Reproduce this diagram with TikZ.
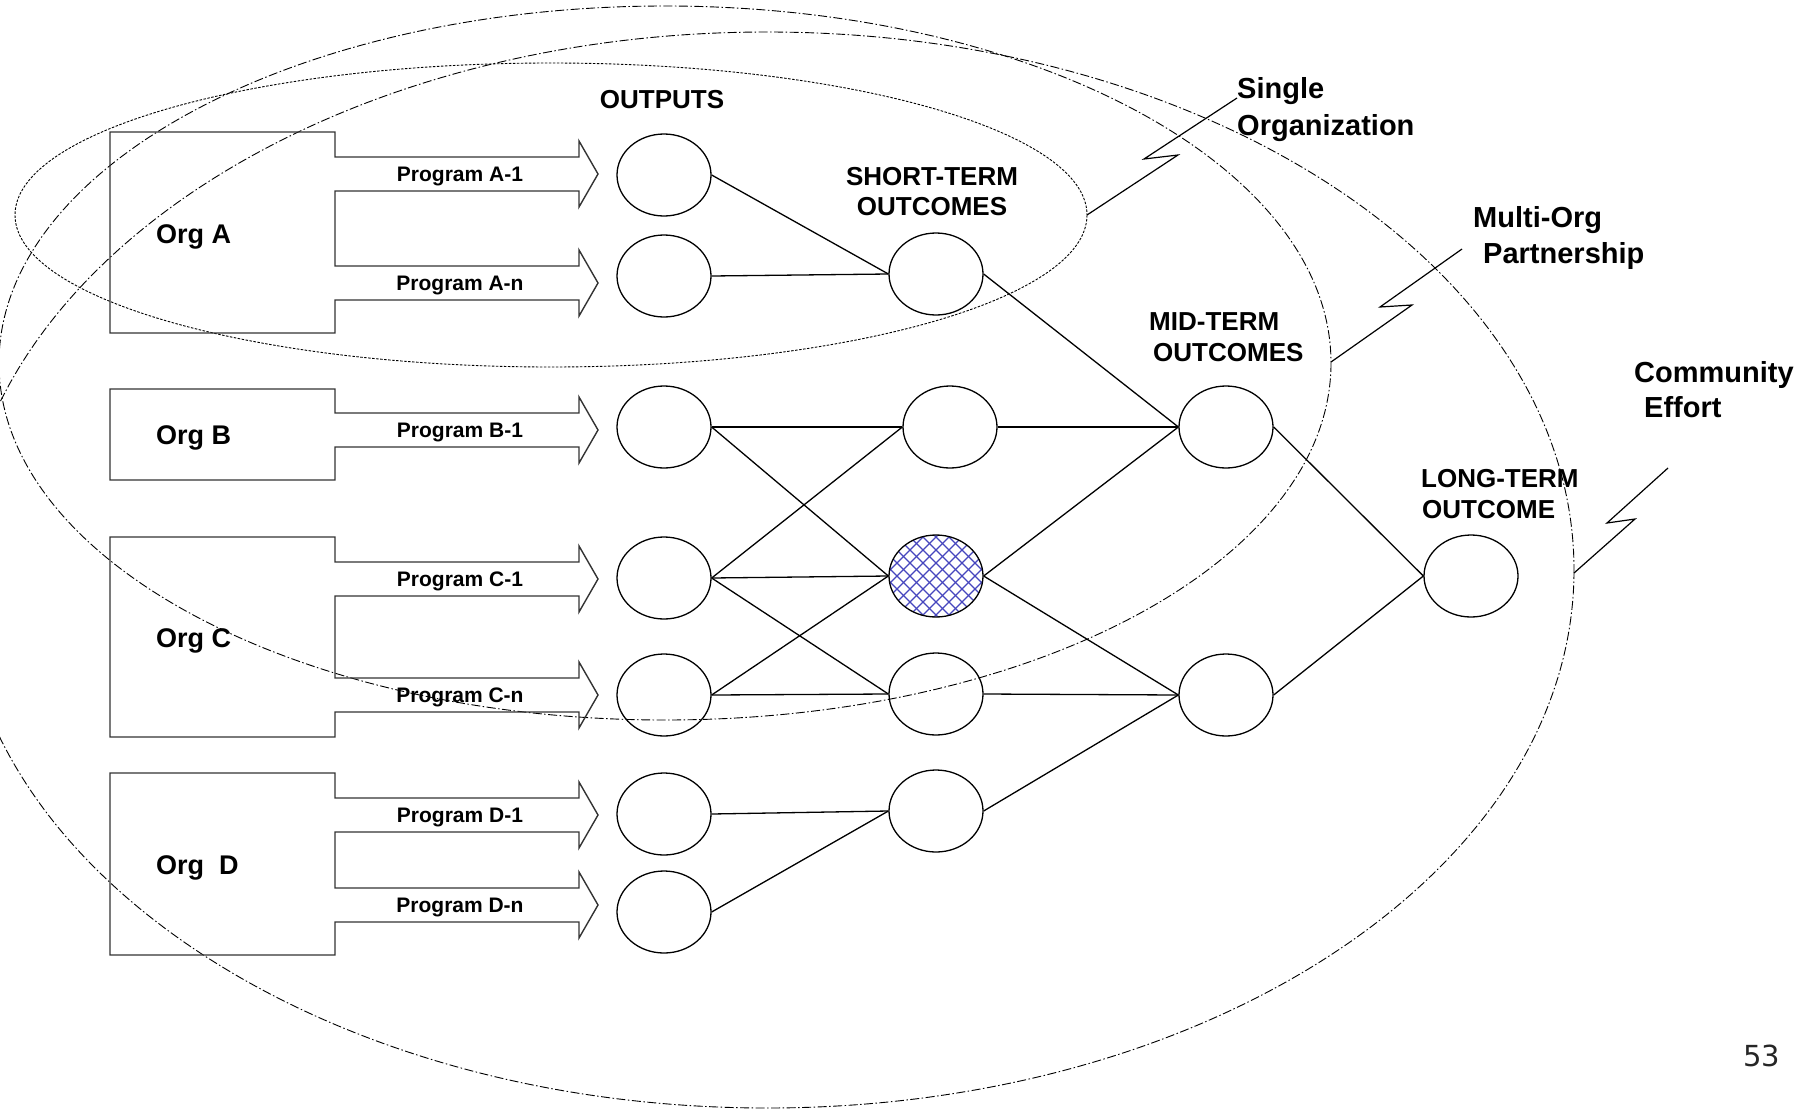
\documentclass[tikz,border=0pt]{standalone}
\usepackage{fontspec}
\setmainfont{Liberation Sans}
\newfontfamily\numfont{DejaVu Sans}
\usetikzlibrary{shapes.geometric}

\definecolor{hatchblue}{RGB}{70,70,190}

% one program arrow leaving the right side of an organisation box,
% #1 = vertical centre of the arrow
\newcommand{\progarrow}[1]{-- (335,#1-17) -- (579,#1-17) -- (579,#1-33) -- (598,#1)
  -- (579,#1+33) -- (579,#1+17) -- (335,#1+17)}

\begin{document}
\begin{tikzpicture}[x=1pt,y=-1pt,
  orgline/.style={draw=black!80, line width=1.4pt, line join=miter},
  bubble/.style={draw, ellipse, line width=1.3pt, minimum width=94pt,
    minimum height=82pt, inner sep=0pt},
  link/.style={line width=1.3pt},
  progtext/.style={font=\bfseries\fontsize{21}{25}\selectfont, inner sep=0pt, anchor=base},
  orgtext/.style={font=\bfseries\fontsize{27}{32}\selectfont, inner sep=0pt, anchor=base west},
  headtext/.style={font=\bfseries\fontsize{26}{31}\selectfont, inner sep=0pt},
  scopetext/.style={font=\bfseries\fontsize{29}{35}\selectfont, inner sep=0pt, anchor=base west},
  singlering/.style={line width=0.9pt, dash pattern=on 2.5pt off 1.5pt},
  widering/.style={line width=0.9pt, dash pattern=on 9pt off 2.5pt on 1.5pt off 2.5pt},
  bolt/.style={line width=1.2pt, line join=miter},
  hatch/.style={draw=hatchblue, line width=1.3pt}
]
\clip (0,0) rectangle (1814,1108);

% ---- scope rings ----
\draw[singlering] (551,215) ellipse [x radius=536, y radius=152];
\draw[widering] (665,363) ellipse [x radius=666, y radius=357];
\draw[widering] (767,570) ellipse [x radius=807, y radius=538];

% ---- organisations with their program arrows ----
\draw[orgline] (110,132) -- (335,132) \progarrow{174} \progarrow{283} -- (335,333) -- (110,333) -- cycle;
\draw[orgline] (110,389) -- (335,389) \progarrow{430} -- (335,480) -- (110,480) -- cycle;
\draw[orgline] (110,537) -- (335,537) \progarrow{579} \progarrow{695} -- (335,737) -- (110,737) -- cycle;
\draw[orgline] (110,773) -- (335,773) \progarrow{815} \progarrow{905} -- (335,955) -- (110,955) -- cycle;

\node[orgtext] (orgA) at (156,243) {Org A};
\node[orgtext] (orgB) at (156,444) {Org B};
\node[orgtext] (orgC) at (156,647) {Org C};
\node[orgtext] (orgD) at (156,874) {Org~~D};

\node[progtext] (pA1) at (460,181.5) {Program A-1};
\node[progtext] (pAn) at (460,290.5) {Program A-n};
\node[progtext] (pB1) at (460,437.5) {Program B-1};
\node[progtext] (pC1) at (460,586.5) {Program C-1};
\node[progtext] (pCn) at (460,702.5) {Program C-n};
\node[progtext] (pD1) at (460,822.5) {Program D-1};
\node[progtext] (pDn) at (460,912.5) {Program D-n};

% ---- outputs ----
\node[bubble] (o1) at (664,175) {};
\node[bubble] (o2) at (664,276) {};
\node[bubble] (o3) at (664,427) {};
\node[bubble] (o4) at (664,578) {};
\node[bubble] (o5) at (664,695) {};
\node[bubble] (o6) at (664,814) {};
\node[bubble] (o7) at (664,912) {};

% ---- short-term outcomes ----
\node[bubble] (s1) at (936,274) {};
\node[bubble] (s2) at (950,427) {};
\node[bubble, fill=white, path picture={
    \foreach \k in {-9,...,9} {
      \draw[hatch] ([xshift=\k*13pt-50pt, yshift=-50pt]path picture bounding box.center)
                -- ([xshift=\k*13pt+50pt, yshift=50pt]path picture bounding box.center);
      \draw[hatch] ([xshift=\k*13pt-50pt, yshift=50pt]path picture bounding box.center)
                -- ([xshift=\k*13pt+50pt, yshift=-50pt]path picture bounding box.center);
    }}] (s3) at (936,576) {};
\node[bubble] (s4) at (936,694) {};
\node[bubble] (s5) at (936,811) {};

% ---- mid-term and long-term outcomes ----
\node[bubble] (m1) at (1226,427) {};
\node[bubble] (m2) at (1226,695) {};
\node[bubble] (lt) at (1471,576) {};

% ---- links ----
\draw[link] (o1.east) -- (s1.west);
\draw[link] (o2.east) -- (s1.west);
\draw[link] (o3.east) -- (s2.west);
\draw[link] (o3.east) -- (s3.west);
\draw[link] (o4.east) -- (s2.west);
\draw[link] (o4.east) -- (s3.west);
\draw[link] (o4.east) -- (s4.west);
\draw[link] (o5.east) -- (s3.west);
\draw[link] (o5.east) -- (s4.west);
\draw[link] (o6.east) -- (s5.west);
\draw[link] (o7.east) -- (s5.west);
\draw[link] (s1.east) -- (m1.west);
\draw[link] (s2.east) -- (m1.west);
\draw[link] (s3.east) -- (m1.west);
\draw[link] (s3.east) -- (m2.west);
\draw[link] (s4.east) -- (m2.west);
\draw[link] (s5.east) -- (m2.west);
\draw[link] (m1.east) -- (lt.west);
\draw[link] (m2.east) -- (lt.west);

% ---- column headings ----
\node[headtext, anchor=base] (hout) at (662,108) {OUTPUTS};
\node[headtext, anchor=base] (hst1) at (932,185) {SHORT-TERM};
\node[headtext, anchor=base] (hst2) at (932,215) {OUTCOMES};
\node[headtext, anchor=base west] (hmt1) at (1149,330) {MID-TERM};
\node[headtext, anchor=base west] (hmt2) at (1153,361) {OUTCOMES};
\node[headtext, anchor=base west] (hlt1) at (1421,487) {LONG-TERM};
\node[headtext, anchor=base west] (hlt2) at (1422,518) {OUTCOME};

% ---- scope labels with their bolts ----
\node[scopetext] (single1) at (1237,98) {Single};
\node[scopetext] (single2) at (1237,135) {Organization};
\node[scopetext] (multi1) at (1473,227) {Multi-Org};
\node[scopetext] (multi2) at (1483,263) {Partnership};
\node[scopetext] (comm1) at (1634,382) {Community};
\node[scopetext] (comm2) at (1644,417) {Effort};

\coordinate (singleedge) at (1087,215);
\coordinate (multiedge) at (1331,362);
\coordinate (multitip) at (1462,249);
\coordinate (commedge) at (1574,573);
\coordinate (commtip) at (1668,468);

\draw[bolt] (singleedge) -- (1178,155) -- (1144,159) -- (single1.base west);
\draw[bolt] (multiedge) -- (1412,305) -- (1380,307) -- (multitip);
\draw[bolt] (commedge) -- (1635,519) -- (1607,523) -- (commtip);

% ---- page number ----
\node[font=\numfont\fontsize{29}{34}\selectfont, text=black!85, anchor=base west, inner sep=0pt]
  (pagenum) at (1743,1066) {53};
\end{tikzpicture}
\end{document}
